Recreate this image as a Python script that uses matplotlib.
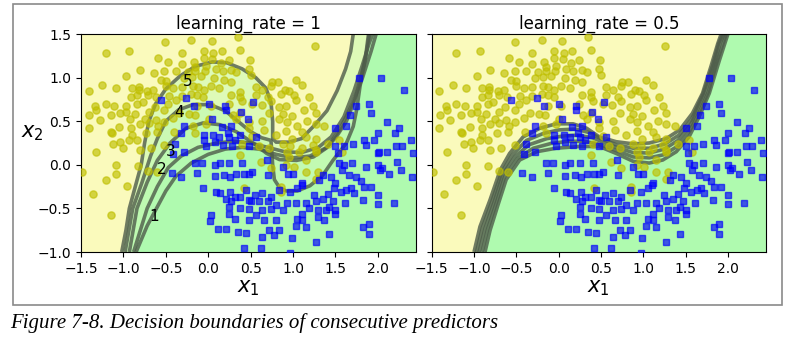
import matplotlib
matplotlib.use("Agg")
import matplotlib.pyplot as plt
from matplotlib.patches import Rectangle

# ---------------- data ----------------
titles = ["learning_rate = 1", "learning_rate = 0.5"]
xticks = [-1.5, -1.0, -0.5, 0.0, 0.5, 1.0, 1.5, 2.0]
yticks = [-1.0, -0.5, 0.0, 0.5, 1.0, 1.5]
x_range = (-1.5, 2.45)
y_range = (-1.0, 1.5)

yellow_pts = [
(-0.51,1.41),(-0.20,1.43),(0.04,1.42),(0.35,1.46),(1.26,1.36),(-1.21,1.28),(-0.93,1.31),(-0.31,1.28),(-0.05,1.31),(0.06,1.28),(0.16,1.31),(0.38,1.32),
(-0.59,1.22),(-0.47,1.18),(-0.31,1.16),(-0.17,1.18),(-0.05,1.22),(0.05,1.21),(0.15,1.17),(0.24,1.20),(0.49,1.20),(-0.03,1.13),(-0.15,1.12),(0.09,1.10),
(-0.81,1.09),(-0.64,1.05),(-0.52,1.08),(-0.38,1.07),(-0.24,1.06),(-0.15,1.07),(-0.04,1.08),(0.17,1.07),(0.27,1.09),(0.48,1.10),(0.50,1.03),(-0.97,1.02),
(-0.56,0.97),(-0.50,0.96),(-0.28,0.99),(-0.19,1.01),(-0.09,1.02),(0.07,0.99),(0.19,0.97),(0.27,0.95),(0.33,1.06),(0.75,0.95),(0.82,0.95),(1.03,0.97),
(-1.25,0.91),(-1.09,0.88),(-0.90,0.88),(-0.82,0.89),(-1.41,0.85),(-0.82,0.86),(-0.72,0.85),(-0.65,0.86),(-0.50,0.90),(-0.41,0.88),(-0.31,0.89),(-0.18,0.90),
(-0.12,0.89),(-0.05,0.86),(0.03,0.90),(0.13,0.88),(0.38,0.83),(0.56,0.89),(0.64,0.86),(0.74,0.90),(0.90,0.86),(0.95,0.85),(1.11,0.91),(-0.91,0.78),
(-0.84,0.80),(-0.71,0.80),(-0.61,0.78),(-0.46,0.79),(-0.31,0.79),(-0.20,0.81),(-0.13,0.80),(-0.06,0.78),(0.27,0.80),(0.38,0.78),(0.56,0.80),(0.70,0.78),
(0.86,0.81),(1.01,0.80),(1.19,0.78),(-1.33,0.67),(-1.21,0.70),(-1.11,0.67),(-0.97,0.67),(-0.84,0.70),(-0.77,0.72),(-0.63,0.66),(-0.47,0.70),(-0.38,0.74),
(-0.13,0.68),(0.03,0.67),(0.24,0.70),(0.40,0.73),(0.52,0.70),(0.63,0.69),(0.74,0.73),(0.84,0.66),(0.92,0.67),(1.03,0.74),(1.13,0.63),(1.23,0.67),
(-1.32,0.63),(-0.97,0.61),(-0.86,0.58),(-0.70,0.61),(-0.52,0.63),(-0.34,0.59),(-0.23,0.58),(-0.16,0.57),(0.29,0.57),(0.38,0.59),(0.72,0.59),(0.88,0.58),
(0.99,0.56),(1.27,0.59),(-1.40,0.57),(-1.15,0.57),(-1.04,0.59),(-1.28,0.51),(-0.92,0.52),(-0.75,0.53),(-0.62,0.51),(-0.41,0.54),(0.01,0.53),(0.33,0.53),
(0.48,0.49),(0.64,0.50),(0.84,0.53),(0.93,0.49),(1.05,0.45),(1.17,0.50),(-1.41,0.42),(-1.15,0.38),(-1.05,0.43),(-0.91,0.42),(-0.81,0.47),(-0.70,0.48),
(-0.59,0.44),(-0.52,0.49),(-0.40,0.38),(-0.18,0.44),(-0.03,0.47),(0.48,0.42),(0.66,0.40),(0.92,0.39),(1.11,0.38),(1.27,0.47),(1.37,0.45),(-0.90,0.34),
(-0.73,0.37),(-0.60,0.38),(-1.14,0.36),(-0.15,0.37),(0.52,0.33),(0.80,0.34),(0.99,0.30),(1.15,0.32),(1.27,0.30),(1.54,0.28),(1.41,0.24),(-1.04,0.26),
(-0.93,0.28),(-0.84,0.28),(-1.01,0.19),(-1.12,0.24),(-1.32,0.15),(-0.81,0.17),(-0.68,0.19),(-0.52,0.23),(0.88,0.24),(0.97,0.21),(1.11,0.19),(1.23,0.23),
(1.27,0.17),(1.07,0.15),(0.93,0.15),(0.72,0.19),(0.60,0.21),(0.40,0.24),(-1.09,0.00),(0.38,0.11),(0.95,0.09),(1.15,0.05),(1.58,0.15),(1.27,0.15),
(0.62,0.03),(-1.49,-0.08),(-0.71,-0.07),(-0.60,-0.08),(-1.09,-0.10),(-1.21,-0.18),(-0.96,-0.24),(1.15,-0.08),(1.27,-0.16),(1.29,-0.08),(-1.36,-0.33),
(-1.15,-0.58),(0.86,-0.25),(0.74,-0.04),(0.92,0.00),(1.01,-0.02),(0.86,-0.31),(-0.83,-0.01),(0.42,-0.27),
]

blue_pts = [
(1.78,1.00),(2.04,1.00),(2.31,0.86),(-0.56,0.74),(-0.26,0.77),(-0.17,0.68),(0.01,0.70),(0.20,0.67),(0.53,0.72),(1.74,0.68),(1.92,0.59),(1.89,0.70),
(0.04,0.53),(0.47,0.53),(0.39,0.60),(0.21,0.63),(0.27,0.44),(0.16,0.43),(0.23,0.37),(-0.28,0.44),(-0.32,0.36),(2.11,0.49),(2.25,0.42),(2.20,0.36),
(1.50,0.42),(1.63,0.44),(1.67,0.57),(-0.05,0.34),(0.06,0.34),(0.13,0.32),(0.25,0.32),(0.31,0.28),(0.38,0.34),(0.56,0.32),(-0.39,0.24),(-0.41,0.12),
(-0.28,0.15),(-0.03,0.21),(-0.05,0.28),(0.08,0.26),(0.17,0.23),(0.28,0.21),(0.48,0.21),(1.84,0.28),(1.96,0.28),(2.00,0.37),(2.39,0.29),(2.29,0.21),
(2.21,0.22),(1.71,0.24),(1.50,0.21),(1.53,0.13),(1.60,0.21),(1.86,0.23),(2.01,0.15),(2.11,0.15),(2.00,0.13),(2.42,0.13),(-0.15,0.02),(-0.07,0.02),
(0.08,0.00),(0.14,0.02),(0.25,0.02),(0.40,0.02),(0.52,-0.08),(0.69,0.05),(0.88,-0.02),(0.94,-0.10),(0.33,-0.10),(0.42,-0.10),(0.19,-0.12),(0.08,-0.13),
(0.26,-0.14),(0.48,-0.10),(0.70,-0.12),(1.54,0.02),(1.60,0.00),(1.70,0.02),(1.58,-0.06),(1.66,-0.12),(1.86,-0.02),(2.00,0.00),(2.03,-0.06),(2.05,-0.04),
(2.23,0.03),(2.27,-0.06),(2.13,-0.10),(2.40,-0.14),(1.00,-0.10),(1.11,-0.21),(1.35,-0.12),(1.31,-0.18),(1.45,-0.14),(1.50,-0.21),(1.74,-0.14),(1.80,-0.19),
(1.84,-0.25),(1.92,-0.25),(-0.32,-0.14),(-0.43,-0.09),(-0.13,-0.09),(-0.06,-0.27),(0.09,-0.31),(0.14,-0.32),(0.26,-0.31),(0.31,-0.37),(0.38,-0.37),
(0.44,-0.29),(0.50,-0.41),(0.55,-0.35),(0.64,-0.32),(0.74,-0.37),(0.84,-0.29),(0.97,-0.31),(1.05,-0.27),(1.10,-0.23),(0.21,-0.39),(0.27,-0.42),
(0.48,-0.40),(0.60,-0.41),(0.70,-0.42),(0.80,-0.46),(0.93,-0.44),(1.03,-0.44),(1.15,-0.44),(1.25,-0.35),(1.27,-0.41),(1.35,-0.39),(1.41,-0.33),
(1.48,-0.27),(1.56,-0.31),(1.63,-0.29),(1.68,-0.27),(1.72,-0.32),(1.82,-0.40),(2.00,-0.35),(2.19,-0.44),(2.00,-0.45),(1.61,-0.44),(1.47,-0.42),
(1.43,-0.48),(1.50,-0.52),(1.39,-0.52),(1.29,-0.52),(1.19,-0.50),(1.11,-0.56),(0.88,-0.52),(0.74,-0.51),(0.64,-0.52),(0.48,-0.51),(0.38,-0.50),
(0.25,-0.48),(0.03,-0.58),(0.02,-0.65),(0.25,-0.56),(0.56,-0.58),(0.66,-0.63),(0.80,-0.63),(1.05,-0.62),(1.11,-0.63),(1.03,-0.70),(1.15,-0.71),
(1.29,-0.60),(1.37,-0.63),(1.50,-0.56),(1.83,-0.71),(1.89,-0.68),(1.90,-0.79),(0.11,-0.74),(0.35,-0.77),(0.44,-0.78),(0.72,-0.75),(0.78,-0.81),
(0.84,-0.75),(0.64,-0.83),(0.99,-0.84),(1.27,-0.89),(0.42,-0.95),(0.62,-0.95),(0.97,-1.01),(1.43,-0.79),(0.21,-0.74),(0.31,-0.62),(0.48,-0.63),
]

# decision boundaries of the 5 consecutive predictors, learning_rate = 1
lr1_boundary_1 = [(-0.85,-1.0),(-0.72,-0.7),(-0.61,-0.5),(-0.5,-0.3),(-0.38,-0.13),(-0.2,0.02),(0.0,0.12),(0.2,0.18),(0.4,0.2),(0.6,0.18),
                  (0.8,0.12),(1.0,0.08),(1.2,0.1),(1.4,0.2),(1.55,0.4),(1.7,0.7),(1.82,1.0),(1.92,1.3),(1.98,1.5)]
lr1_boundary_2 = [(-0.88,-1.0),(-0.72,-0.5),(-0.6,-0.25),(-0.47,-0.03),(-0.32,0.1),(-0.12,0.2),(0.1,0.25),(0.3,0.27),(0.5,0.25),(0.7,0.2),
                  (0.9,0.15),(1.1,0.14),(1.3,0.2),(1.45,0.32),(1.6,0.55),(1.72,0.85),(1.82,1.15),(1.9,1.4),(1.94,1.5)]
lr1_boundary_3 = [(-0.93,-1.0),(-0.84,-0.5),(-0.72,-0.2),(-0.6,0.05),(-0.45,0.25),(-0.26,0.42),(-0.06,0.48),(0.14,0.46),(0.33,0.38),(0.53,0.25),
                  (0.69,0.13),(0.84,0.06),(1.04,0.05),(1.24,0.09),(1.39,0.19),(1.51,0.32),(1.63,0.5),(1.73,0.75),(1.8,1.0),(1.86,1.25),(1.9,1.5)]
lr1_boundary_4 = [(-0.98,-1.0),(-0.89,-0.5),(-0.78,-0.2),(-0.68,0.1),(-0.6,0.3),(-0.5,0.5),(-0.35,0.63),(-0.18,0.69),(0.02,0.69),(0.2,0.62),
                  (0.35,0.5),(0.5,0.38),(0.63,0.31),(0.74,0.28),(0.76,0.0),(0.78,-0.17),(0.84,-0.26),(0.92,-0.3),(1.05,-0.3),(1.2,-0.24),
                  (1.35,-0.12),(1.47,0.05),(1.63,0.25),(1.71,0.44),(1.75,0.63),(1.79,0.9),(1.85,1.2),(1.89,1.5)]
lr1_boundary_5 = [(-1.02,-1.0),(-0.97,-0.75),(-0.93,-0.5),(-0.86,-0.25),(-0.79,0.0),(-0.75,0.25),(-0.7,0.5),(-0.62,0.7),(-0.5,0.87),(-0.33,1.02),
                  (-0.15,1.13),(0.05,1.18),(0.22,1.17),(0.4,1.1),(0.56,1.0),(0.68,0.88),(0.74,0.72),(0.76,0.5),(0.76,0.3),(0.8,0.26),
                  (0.95,0.26),(1.1,0.3),(1.25,0.45),(1.4,0.62),(1.52,0.85),(1.62,1.1),(1.68,1.3),(1.71,1.5)]

# learning_rate = 0.5
lr05_boundary_1 = [(-0.87,-1.0),(-0.81,-0.75),(-0.71,-0.44),(-0.62,-0.17),(-0.46,0.055),(-0.26,0.15),(-0.03,0.19),(0.25,0.21),(0.48,0.21),(0.68,0.13),
                   (0.88,0.04),(1.07,0.02),(1.23,0.055),(1.39,0.15),(1.54,0.32),(1.66,0.55),(1.78,0.82),(1.9,1.2),(2.0,1.5)]
lr05_boundary_2 = [(-0.905,-1.0),(-0.84,-0.74),(-0.735,-0.43),(-0.64,-0.14),(-0.49,0.07),(-0.3,0.19),(-0.09,0.245),(0.12,0.27),(0.3,0.27),(0.46,0.24),
                   (0.68,0.165),(0.88,0.09),(1.07,0.08),(1.24,0.115),(1.4,0.21),(1.55,0.39),(1.67,0.62),(1.77,0.84),(1.87,1.18),(1.98,1.5)]
lr05_boundary_3 = [(-0.94,-1.0),(-0.87,-0.73),(-0.76,-0.42),(-0.66,-0.11),(-0.52,0.09),(-0.35,0.23),(-0.14,0.3),(0.05,0.33),(0.22,0.34),(0.4,0.31),
                   (0.5,0.27),(0.68,0.2),(0.88,0.14),(1.07,0.135),(1.25,0.18),(1.41,0.28),(1.56,0.46),(1.73,0.82),(1.85,1.17),(1.91,1.4),(1.96,1.5)]
lr05_boundary_4 = [(-0.97,-1.0),(-0.9,-0.72),(-0.785,-0.41),(-0.675,-0.09),(-0.55,0.11),(-0.38,0.28),(-0.18,0.36),(0.0,0.4),(0.2,0.41),(0.36,0.37),
                   (0.5,0.3),(0.68,0.23),(0.88,0.19),(1.07,0.19),(1.26,0.24),(1.42,0.34),(1.57,0.52),(1.71,0.82),(1.82,1.14),(1.89,1.39),(1.94,1.5)]
lr05_boundary_5 = [(-1.0,-1.0),(-0.93,-0.71),(-0.81,-0.4),(-0.69,-0.06),(-0.58,0.13),(-0.42,0.32),(-0.22,0.42),(-0.03,0.47),(0.17,0.47),(0.33,0.42),
                   (0.48,0.32),(0.68,0.265),(0.88,0.24),(1.07,0.25),(1.27,0.3),(1.43,0.4),(1.58,0.59),(1.7,0.82),(1.8,1.13),(1.88,1.39),(1.92,1.5)]

panel_boundaries = [
    [lr1_boundary_1, lr1_boundary_2, lr1_boundary_3, lr1_boundary_4, lr1_boundary_5],
    [lr05_boundary_1, lr05_boundary_2, lr05_boundary_3, lr05_boundary_4, lr05_boundary_5],
]

predictor_labels = ["1", "2", "3", "4", "5"]
predictor_label_pos = [(-0.7, -0.65), (-0.6, -0.10), (-0.5, 0.10), (-0.4, 0.55), (-0.3, 0.90)]

caption = "Figure 7-8. Decision boundaries of consecutive predictors"

# ---------------- styling ----------------
YELLOW_BG = "#fafab0"
GREEN_BG = "#a0faa0"
LINE_COL = "#4e5c4a"

W, H = 788, 341
fig = plt.figure(figsize=(W / 100, H / 100), dpi=100)

ax_rects = [
    [81 / W, 1 - 252 / H, (416 - 81) / W, (252 - 34) / H],
    [431.7 / W, 1 - 252 / H, (766 - 431.7) / W, (252 - 34) / H],
]


def draw_region(ax, curve):
    xs = [p[0] for p in curve]
    ys = [p[1] for p in curve]
    px = [xs[0]] + xs + [xs[-1]]
    py = [-1.3] + ys + [1.8]
    ax.fill(px + [-2.5, -2.5], py + [1.8, -1.3], color=YELLOW_BG, alpha=0.3, lw=0, zorder=1)
    ax.fill(px + [3.5, 3.5], py + [1.8, -1.3], color=GREEN_BG, alpha=0.3, lw=0, zorder=1)


for i, rect in enumerate(ax_rects):
    ax = fig.add_axes(rect)
    for curve in panel_boundaries[i]:
        draw_region(ax, curve)
    for curve in panel_boundaries[i]:
        ax.plot([p[0] for p in curve], [p[1] for p in curve], color=LINE_COL,
                lw=2.6, alpha=0.8, zorder=2, solid_capstyle="butt")
    ax.plot([p[0] for p in yellow_pts], [p[1] for p in yellow_pts], "o", color="y",
            ms=5.2, alpha=0.65, zorder=3)
    ax.plot([p[0] for p in blue_pts], [p[1] for p in blue_pts], "s", color="b",
            ms=4.8, alpha=0.65, zorder=3)
    ax.set_xlim(*x_range)
    ax.set_ylim(*y_range)
    ax.set_xticks(xticks)
    ax.set_yticks(yticks)
    ax.tick_params(labelsize=10)
    ax.set_title(titles[i], fontsize=12, pad=4)
    ax.set_xlabel(r"$x_1$", fontsize=15, labelpad=2)
    if i == 0:
        ax.set_ylabel(r"$x_2$", fontsize=15, rotation=0, labelpad=4)
        for lab, (tx, ty) in zip(predictor_labels, predictor_label_pos):
            ax.text(tx, ty, lab, fontsize=11, zorder=4)
    else:
        ax.set_yticklabels([])

# figure frame and caption
fig.patches.append(Rectangle((13 / W, 1 - 305 / H), (782 - 13) / W, (305 - 4) / H,
                             transform=fig.transFigure, fill=False, edgecolor="#8a8a8a", lw=1.2))
fig.text(10 / W, 1 - 323 / H, caption, fontsize=15, style="italic",
         family="Liberation Serif", va="center", ha="left")

fig.savefig("out.png", dpi=100)
